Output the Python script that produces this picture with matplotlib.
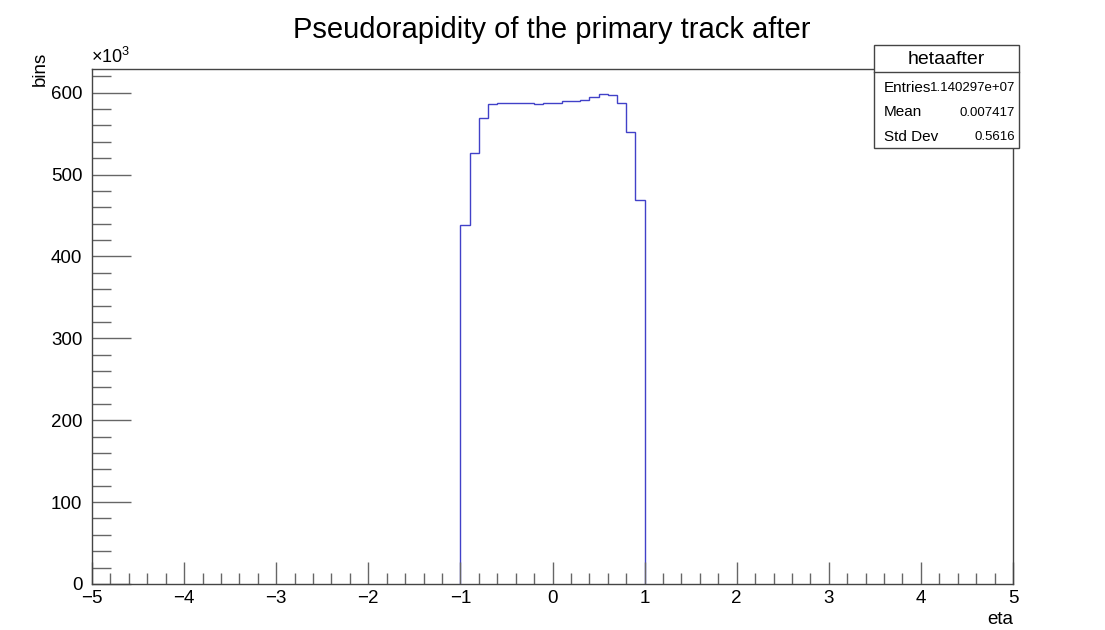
import numpy as np
import matplotlib
matplotlib.use("Agg")
import matplotlib.pyplot as plt
from matplotlib.patches import Rectangle
from matplotlib.lines import Line2D
from matplotlib.ticker import MultipleLocator, FuncFormatter

plt.rcParams['font.family'] = ['Liberation Sans', 'DejaVu Sans']
plt.rcParams['mathtext.fontset'] = 'custom'
plt.rcParams['mathtext.rm'] = 'Liberation Sans'
plt.rcParams['mathtext.it'] = 'Liberation Sans'

# eta histogram, 0.1 wide bins; everything outside |eta| < 1 is empty
bin_lo = -1.0
bin_width = 0.1
counts = [439e3, 526e3, 569e3, 586e3, 587.5e3, 587.5e3, 587.5e3, 587.5e3,
          586e3, 587e3, 587e3, 590e3, 590e3, 591e3, 595e3, 599e3,
          597e3, 587e3, 552e3, 469e3]
edges = bin_lo + bin_width * np.arange(len(counts) + 1)

hist_name = "hetaafter"
stats_labels = ["Entries", "Mean", "Std Dev"]
stats_values = ["1.140297e+07", "0.007417", "0.5616"]

W, H = 1105, 630
fig = plt.figure(figsize=(W / 100, H / 100), dpi=100)
ax = fig.add_axes([92 / W, 1 - 584 / H, (1013 - 92) / W, (584 - 69) / H])

ax.stairs(counts, edges, baseline=0, color='#4141c8', linewidth=1.0)

ax.set_xlim(-5, 5)
ax.set_ylim(0, 1.05 * max(counts))

ax.xaxis.set_major_locator(MultipleLocator(1))
ax.xaxis.set_minor_locator(MultipleLocator(0.2))
ax.yaxis.set_major_locator(MultipleLocator(100e3))
ax.yaxis.set_minor_locator(MultipleLocator(20e3))
ax.yaxis.set_major_formatter(FuncFormatter(lambda v, p: f"{v / 1e3:.0f}"))

ax.tick_params(axis='x', which='major', direction='in', length=16, width=1,
               labelsize=13.5, pad=4, color='#666666', top=False)
ax.tick_params(axis='x', which='minor', direction='in', length=8, width=1,
               color='#666666', top=False)
ax.tick_params(axis='y', which='major', direction='in', length=28, width=1,
               labelsize=13.5, pad=7, color='#666666', right=False)
ax.tick_params(axis='y', which='minor', direction='in', length=14, width=1,
               color='#666666', right=False)
for s in ax.spines.values():
    s.set_linewidth(1.0)
    s.set_color('#444444')

fig.text(552 / W, 1 - 30 / H, "Pseudorapidity of the primary track after",
         ha='center', va='center', fontsize=21)
fig.text(1013 / W, 1 - 620 / H, "eta", ha='right', va='center', fontsize=13.5)
fig.text(40 / W, 1 - 52 / H, "bins", ha='center', va='top', rotation=90,
         fontsize=13.5)
fig.text(91 / W, 1 - 67 / H, r"$\times10^{3}$", ha='left', va='bottom',
         fontsize=13)

# statistics box
bx0, bx1 = 874 / W, 1019 / W
by_top, by_sep, by_bot = 1 - 45 / H, 1 - 72 / H, 1 - 148 / H
fig.add_artist(Rectangle((bx0, by_bot), bx1 - bx0, by_top - by_bot,
                         transform=fig.transFigure, facecolor='white',
                         edgecolor='#444444', linewidth=1.0, zorder=5))
fig.add_artist(Line2D([bx0, bx1], [by_sep, by_sep], transform=fig.transFigure,
                      color='#444444', linewidth=1.0, zorder=6))
fig.text((bx0 + bx1) / 2, 1 - 59 / H, hist_name, ha='center', va='center',
         fontsize=14, zorder=7)
for i, (lab, val) in enumerate(zip(stats_labels, stats_values)):
    yy = 1 - (88 + 24.5 * i) / H
    fig.text(884 / W, yy, lab, ha='left', va='center', fontsize=11, zorder=7)
    fig.text(1015 / W, yy, val, ha='right', va='center', fontsize=9.5, zorder=7)

fig.savefig("out.png", dpi=100)
